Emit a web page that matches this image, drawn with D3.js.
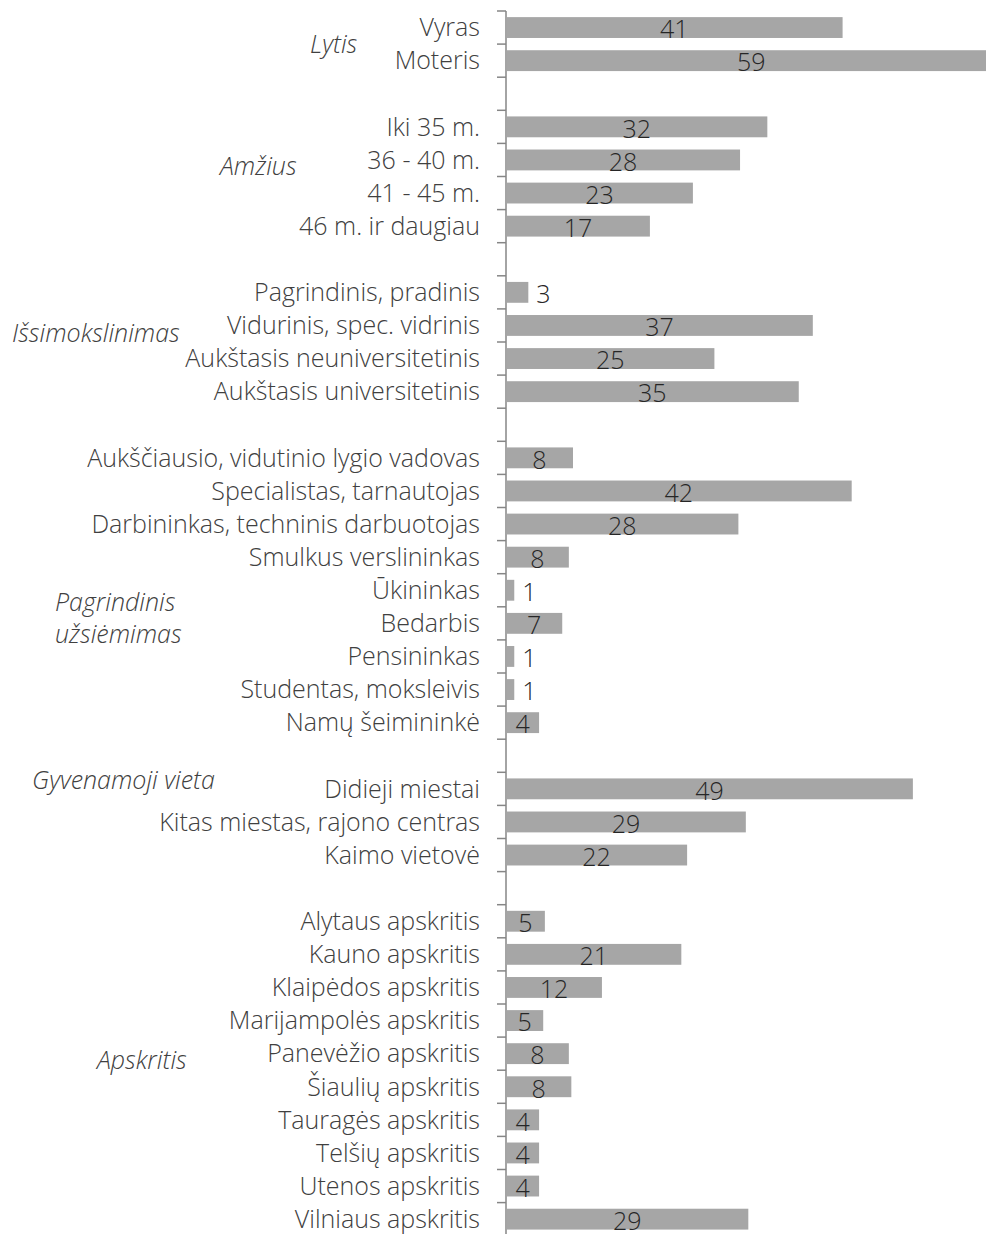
<!DOCTYPE html>
<html>
<head>
<meta charset="utf-8">
<script src="https://cdn.jsdelivr.net/npm/d3@7"></script>
<style>
  html, body { margin: 0; padding: 0; background: #fff; }
  svg { display: block; }
  text { font-family: "Open Sans", "Segoe UI", sans-serif; font-weight: 300; }
</style>
</head>
<body>
<svg id="chart"></svg>
<script>
// data, % by group
const groupNames = ["Lytis", "Amžius", "Išsimokslinimas", "Pagrindinis užsiėmimas", "Gyvenamoji vieta", "Apskritis"];

const lytisLabels = ["Vyras", "Moteris"];
const lytisValues = [40.7, 59.3];

const amziusLabels = ["Iki 35 m.", "36 - 40 m.", "41 - 45 m.", "46 m. ir daugiau"];
const amziusValues = [31.6, 28.3, 22.6, 17.4];

const issLabels = ["Pagrindinis, pradinis", "Vidurinis, spec. vidrinis", "Aukštasis neuniversitetinis", "Aukštasis universitetinis"];
const issValues = [2.7, 37.1, 25.2, 35.4];

const uzsLabels = ["Aukščiausio, vidutinio lygio vadovas", "Specialistas, tarnautojas", "Darbininkas, techninis darbuotojas",
  "Smulkus verslininkas", "Ūkininkas", "Bedarbis", "Pensininkas", "Studentas, moksleivis", "Namų šeimininkė"];
const uzsValues = [8.1, 41.8, 28.1, 7.6, 1.0, 6.8, 1.0, 1.0, 4.0];

const vietaLabels = ["Didieji miestai", "Kitas miestas, rajono centras", "Kaimo vietovė"];
const vietaValues = [49.2, 29.0, 21.9];

const apskLabels = ["Alytaus apskritis", "Kauno apskritis", "Klaipėdos apskritis", "Marijampolės apskritis",
  "Panevėžio apskritis", "Šiaulių apskritis", "Tauragės apskritis", "Telšių apskritis", "Utenos apskritis", "Vilniaus apskritis"];
const apskValues = [4.7, 21.2, 11.6, 4.5, 7.6, 7.9, 4.0, 4.0, 4.0, 29.3];

const groupLabels = [lytisLabels, amziusLabels, issLabels, uzsLabels, vietaLabels, apskLabels];
const groupValues = [lytisValues, amziusValues, issValues, uzsValues, vietaValues, apskValues];

// layout of the italic group titles (left x, row offset inside group)
const titleLayout = [
  {x: 310, row: 0.5},
  {x: 220, row: 1.18},
  {x: 12, row: 1.23},
  {x: 55, row: 4.85},
  {x: 32, row: -0.27},
  {x: 97, row: 4.2}
];

const width = 986, height = 1234;
const x0 = 506;
const fontSize = 25;

// rows with an empty slot between groups
let rows = [];
groupNames.forEach((g, gi) => {
  if (gi > 0) rows.push({key: "gap" + gi, gap: true});
  groupLabels[gi].forEach((lab, i) => {
    rows.push({key: g + "|" + lab, label: lab, value: groupValues[gi][i], group: gi});
  });
});

const svg = d3.select("#chart").attr("width", width).attr("height", height);

const x = d3.scaleLinear().domain([0, 60]).range([x0, x0 + 60 * 8.27]);
const y = d3.scaleBand()
  .domain(rows.map(d => d.key))
  .range([11, 11 + rows.length * 33.1])
  .paddingInner(0.37)
  .paddingOuter(0.185);

const step = y.step();
const yTop = y.range()[0];
const rowCenter = k => y(k) + y.bandwidth() / 2;

// bars
const data = rows.filter(d => !d.gap);
svg.append("g")
  .selectAll("rect")
  .data(data)
  .join("rect")
  .attr("x", x(0) + 1)
  .attr("y", d => y(d.key))
  .attr("width", d => x(d.value) - x(0) - 1)
  .attr("height", y.bandwidth())
  .attr("fill", "#a6a6a6");

// axis line + ticks at category boundaries
const axis = svg.append("g").attr("stroke", "#868686").attr("stroke-width", 1.5);
axis.append("line")
  .attr("x1", x0).attr("x2", x0)
  .attr("y1", yTop).attr("y2", yTop + rows.length * step);
axis.selectAll("line.tick")
  .data(d3.range(rows.length + 1))
  .join("line")
  .attr("class", "tick")
  .attr("x1", x0 - 9).attr("x2", x0)
  .attr("y1", i => yTop + i * step)
  .attr("y2", i => yTop + i * step);

// category labels
svg.append("g")
  .selectAll("text")
  .data(data)
  .join("text")
  .attr("x", x0 - 26)
  .attr("y", d => rowCenter(d.key))
  .attr("dy", "0.35em")
  .attr("text-anchor", "end")
  .attr("font-size", fontSize)
  .attr("fill", "#404040")
  .text(d => d.label);

// value labels: centered inside, outside for tiny bars
svg.append("g")
  .selectAll("text")
  .data(data)
  .join("text")
  .attr("x", d => d.value < 3.5 ? x(d.value) + 8 : Math.min((x(0) + x(d.value)) / 2, (x0 + width) / 2 + 6))
  .attr("y", d => rowCenter(d.key) + 2)
  .attr("dy", "0.35em")
  .attr("text-anchor", d => d.value < 3.5 ? "start" : "middle")
  .attr("font-size", fontSize)
  .attr("fill", "#262626")
  .text(d => Math.round(d.value));

// italic group titles
groupNames.forEach((g, gi) => {
  const first = rows.find(r => r.group === gi);
  const cy = rowCenter(first.key) + titleLayout[gi].row * step;
  const words = gi === 3 ? g.split(" ") : [g];
  const t = svg.append("text")
    .attr("x", titleLayout[gi].x)
    .attr("y", cy - (words.length - 1) * 16)
    .attr("font-size", fontSize)
    .attr("font-style", "italic")
    .attr("fill", "#404040");
  words.forEach((w, wi) => {
    t.append("tspan")
      .attr("x", titleLayout[gi].x)
      .attr("dy", wi === 0 ? "0.35em" : 32)
      .text(w);
  });
});
</script>
</body>
</html>
